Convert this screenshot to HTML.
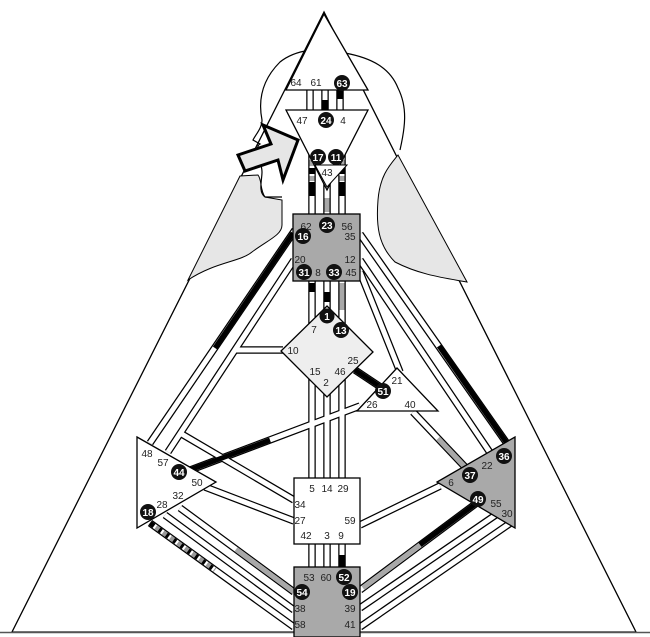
<!DOCTYPE html>
<html><head><meta charset="utf-8"><style>
html,body{margin:0;padding:0;background:#fff;}
svg{display:block;font-family:"Liberation Sans",sans-serif;}
.o{stroke:#000;stroke-width:7.5;fill:none}
.i{stroke:#fff;stroke-width:5;fill:none}
.b{stroke:#000;stroke-width:5;fill:none}
.g{stroke:#a8a8a8;stroke-width:5;fill:none}
.t{font-size:10px;fill:#222;text-anchor:middle}
.c{fill:#111}
.ct{font-size:10px;fill:#fff;font-weight:bold;text-anchor:middle}
</style></head><body>
<svg width="650" height="637" viewBox="0 0 650 637">
<polygon points="324,12 12,632 636,632" fill="#fff" stroke="#000" stroke-width="1.3"/>
<line x1="0" y1="632.5" x2="650" y2="632.5" stroke="#555" stroke-width="1.5"/>
<path d="M240,176 L188,280 C215,262 240,262 252,252 C268,240 282,235 282,225 L282,200 L265,197 C260,190 262,180 258,175 Z" fill="#e6e6e6" stroke="#000" stroke-width="1"/>
<path d="M398,155 C390,165 380,175 378,200 C376,225 378,245 395,262 C420,275 445,278 467,282 Z" fill="#e6e6e6" stroke="#000" stroke-width="1"/>
<path d="M265,197 C258,192 262,180 262,172 C262,165 258,160 262,155 C258,150 256,146 260,144 L253,140 C256,134 262,128 262,120 C258,100 262,80 280,62 C295,50 320,46 345,53 C372,58 390,68 398,88 C408,108 405,128 400,150" fill="none" stroke="#000" stroke-width="1.2"/>
<line x1="265" y1="197" x2="282" y2="197" stroke="#000" stroke-width="1.2"/>
<g class="o">
<line x1="310" y1="88" x2="310" y2="112"/><line x1="325" y1="88" x2="325" y2="112"/><line x1="340" y1="88" x2="340" y2="112"/>
<line x1="312" y1="150" x2="312" y2="570"/><line x1="327" y1="150" x2="327" y2="570"/><line x1="342" y1="150" x2="342" y2="570"/>
<line x1="295" y1="230" x2="150" y2="443"/>
<line x1="294" y1="260" x2="168" y2="452"/>
<line x1="283" y1="350" x2="236" y2="350"/>
<line x1="180" y1="433" x2="294" y2="500"/>
<line x1="205" y1="487" x2="294" y2="521"/>
<line x1="185" y1="472" x2="360" y2="406"/>
<line x1="150" y1="523" x2="294" y2="627"/>
<line x1="165" y1="515" x2="294" y2="610"/>
<line x1="180" y1="508" x2="294" y2="592"/>
<line x1="360" y1="525" x2="440" y2="486"/>
<line x1="360" y1="590" x2="478" y2="502"/>
<line x1="360" y1="608" x2="500" y2="512"/>
<line x1="360" y1="627" x2="512" y2="522"/>
<line x1="360" y1="234" x2="508" y2="445"/>
<line x1="360" y1="260" x2="495" y2="460"/>
<line x1="360" y1="272" x2="400" y2="372"/>
<line x1="413" y1="412" x2="466" y2="468"/>
<line x1="355" y1="370" x2="385" y2="390"/>
</g>
<g class="i">
<line x1="310" y1="88" x2="310" y2="112"/><line x1="325" y1="88" x2="325" y2="112"/><line x1="340" y1="88" x2="340" y2="112"/>
<line x1="312" y1="150" x2="312" y2="570"/><line x1="327" y1="150" x2="327" y2="570"/><line x1="342" y1="150" x2="342" y2="570"/>
<line x1="295" y1="230" x2="150" y2="443"/>
<line x1="294" y1="260" x2="168" y2="452"/>
<line x1="283" y1="350" x2="236" y2="350"/>
<line x1="180" y1="433" x2="294" y2="500"/>
<line x1="205" y1="487" x2="294" y2="521"/>
<line x1="185" y1="472" x2="360" y2="406"/>
<line x1="150" y1="523" x2="294" y2="627"/>
<line x1="165" y1="515" x2="294" y2="610"/>
<line x1="180" y1="508" x2="294" y2="592"/>
<line x1="360" y1="525" x2="440" y2="486"/>
<line x1="360" y1="590" x2="478" y2="502"/>
<line x1="360" y1="608" x2="500" y2="512"/>
<line x1="360" y1="627" x2="512" y2="522"/>
<line x1="360" y1="234" x2="508" y2="445"/>
<line x1="360" y1="260" x2="495" y2="460"/>
<line x1="360" y1="272" x2="400" y2="372"/>
<line x1="413" y1="412" x2="466" y2="468"/>
<line x1="355" y1="370" x2="385" y2="390"/>
</g>
<g class="b">
<line x1="325" y1="100" x2="325" y2="110"/><line x1="340" y1="90" x2="340" y2="99"/>
<line x1="312" y1="168" x2="312" y2="174"/><line x1="312" y1="182" x2="312" y2="196"/>
<line x1="342" y1="168" x2="342" y2="174"/><line x1="342" y1="182" x2="342" y2="196"/>
<line x1="312" y1="283" x2="312" y2="292"/><line x1="327" y1="292" x2="327" y2="302"/>
<line x1="342" y1="555" x2="342" y2="568"/>
<line x1="293" y1="233" x2="215" y2="348"/>
<line x1="190" y1="470" x2="270" y2="440"/>
<line x1="420" y1="545" x2="478" y2="502"/>
<line x1="439" y1="346" x2="506" y2="442"/>
<line x1="355" y1="370" x2="385" y2="390"/>
</g>
<g class="g">
<line x1="312" y1="176" x2="312" y2="181"/><line x1="342" y1="176" x2="342" y2="181"/>
<line x1="312" y1="160" x2="312" y2="166"/><line x1="342" y1="160" x2="342" y2="166"/>
<line x1="327" y1="198" x2="327" y2="212"/>
<line x1="342" y1="283" x2="342" y2="310"/>
<line x1="236" y1="549.3" x2="294" y2="592"/>
<line x1="363" y1="588" x2="420" y2="545"/>
<line x1="438" y1="438.5" x2="466" y2="468"/>
</g>
<line x1="150" y1="523" x2="215" y2="570" stroke="#000" stroke-width="5" stroke-dasharray="5 4"/>
<line x1="155" y1="526.6" x2="215" y2="570" stroke="#999" stroke-width="5" stroke-dasharray="4 5" stroke-dashoffset="-1"/>
<polygon points="324,14 368,90 286,90" fill="#fff" stroke="#000" stroke-width="1.3"/>
<polygon points="286,110 368,110 327,190" fill="#fff" stroke="#000" stroke-width="1.3"/>
<polygon points="315,165 347,165 327,187" fill="#fff" stroke="#000" stroke-width="1"/>
<rect x="293" y="214" width="67" height="67" fill="#a9a9a9" stroke="#000" stroke-width="1.3"/>
<polygon points="327,306 373,352 327,397 281,351" fill="#eeeeee" stroke="#000" stroke-width="1.3"/>
<polygon points="397,368 438,411 357,411" fill="#fff" stroke="#000" stroke-width="1.3"/>
<polygon points="137,437 216,482 137,528" fill="#fff" stroke="#000" stroke-width="1.3"/>
<rect x="294" y="478" width="66" height="66" fill="#fff" stroke="#000" stroke-width="1.3"/>
<rect x="294" y="567" width="66" height="70" fill="#a9a9a9" stroke="#000" stroke-width="1.3"/>
<polygon points="515,437 515,528 437,482" fill="#a9a9a9" stroke="#000" stroke-width="1.3"/>
<polygon points="298,140 263,125 271,144 238,155 245,171 278,160 283,180" fill="#e6e6e6" stroke="#000" stroke-width="3" stroke-linejoin="miter"/>
<g class="t">
<text x="296" y="86">64</text><text x="316" y="86">61</text>
<text x="302" y="124">47</text><text x="343" y="124">4</text>
<text x="327" y="176">43</text>
<text x="306" y="230">62</text><text x="347" y="230">56</text><text x="350" y="240">35</text>
<text x="300" y="263">20</text><text x="350" y="263">12</text><text x="318" y="276">8</text><text x="351" y="276">45</text>
<text x="314" y="333">7</text><text x="293" y="354">10</text><text x="353" y="364">25</text>
<text x="315" y="375">15</text><text x="340" y="375">46</text><text x="326" y="386">2</text>
<text x="397" y="384">21</text><text x="372" y="408">26</text><text x="410" y="408">40</text>
<text x="147" y="457">48</text><text x="163" y="466">57</text><text x="197" y="486">50</text><text x="178" y="499">32</text><text x="162" y="508">28</text>
<text x="312" y="492">5</text><text x="327" y="492">14</text><text x="343" y="492">29</text>
<text x="300" y="508">34</text><text x="300" y="524">27</text><text x="350" y="524">59</text>
<text x="306" y="539">42</text><text x="327" y="539">3</text><text x="341" y="539">9</text>
<text x="309" y="581">53</text><text x="326" y="581">60</text>
<text x="300" y="612">38</text><text x="350" y="612">39</text><text x="300" y="628">58</text><text x="350" y="628">41</text>
<text x="487" y="469">22</text><text x="451" y="486">6</text><text x="496" y="507">55</text><text x="507" y="517">30</text>
</g>
<g class="c">
<circle cx="342" cy="83" r="8"/><circle cx="326" cy="120" r="8"/>
<circle cx="318" cy="157" r="8"/><circle cx="336" cy="157" r="8"/>
<circle cx="327" cy="225" r="8"/><circle cx="303" cy="236" r="8"/>
<circle cx="304" cy="272" r="8"/><circle cx="334" cy="272" r="8"/>
<circle cx="327" cy="316" r="7.5"/><circle cx="341" cy="330" r="8"/>
<circle cx="383" cy="391" r="8"/>
<circle cx="179" cy="472" r="8"/><circle cx="148" cy="512" r="8"/>
<circle cx="344" cy="577" r="8"/><circle cx="302" cy="592" r="8"/><circle cx="350" cy="592" r="8"/>
<circle cx="504" cy="456" r="8"/><circle cx="470" cy="475" r="8"/><circle cx="478" cy="499" r="8"/>
</g>
<g class="ct">
<text x="342" y="87">63</text><text x="326" y="124">24</text>
<text x="318" y="161">17</text><text x="336" y="161">11</text>
<text x="327" y="229">23</text><text x="303" y="240">16</text>
<text x="304" y="276">31</text><text x="334" y="276">33</text>
<text x="327" y="320">1</text><text x="341" y="334">13</text>
<text x="383" y="395">51</text>
<text x="179" y="476">44</text><text x="148" y="516">18</text>
<text x="344" y="581">52</text><text x="302" y="596">54</text><text x="350" y="596">19</text>
<text x="504" y="460">36</text><text x="470" y="479">37</text><text x="478" y="503">49</text>
</g>
</svg>
</body></html>
